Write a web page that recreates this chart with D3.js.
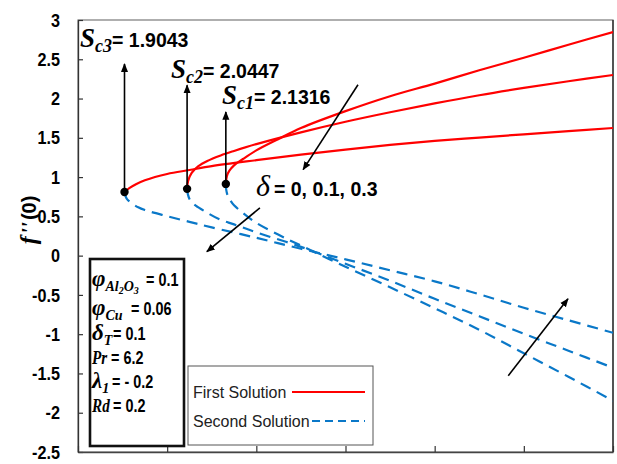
<!DOCTYPE html>
<html>
<head>
<meta charset="utf-8">
<script src="https://cdn.jsdelivr.net/npm/d3@7"></script>
<style>
  body { margin: 0; background: #fff; }
  svg { display: block; }
</style>
</head>
<body>
<svg id="chart" width="617" height="464"></svg>
<script>
// ---- data -------------------------------------------------------------
// delta values, their critical points S_c and f''(0) at the turning point
const deltas = [0, 0.1, 0.3];
const criticalS = [2.1316, 2.0447, 1.9043];
const criticalF = [0.913, 0.85, 0.81];
const criticalLabels = ["c1", "c2", "c3"];

// first (upper) solution branch, [S, f''(0)]
const firstDelta0 = [[2.1316,0.913],[2.134,1.015],[2.14,1.085],[2.15,1.15],[2.17,1.23],[2.2,1.34],[2.25,1.486],[2.3,1.625],[2.4,1.84],[2.5,2.03],[2.6,2.19],[2.7,2.36],[2.8,2.52],[2.9,2.685],[3.0,2.847]];
const firstDelta01 = [[2.0447,0.85],[2.047,0.952],[2.055,1.053],[2.07,1.14],[2.09,1.206],[2.12,1.276],[2.15,1.333],[2.2,1.42],[2.3,1.57],[2.4,1.705],[2.5,1.826],[2.6,1.938],[2.7,2.042],[2.8,2.135],[2.9,2.22],[3.0,2.30]];
const firstDelta03 = [[1.9043,0.81],[1.915,0.86],[1.93,0.91],[1.95,0.96],[2.0,1.04],[2.05,1.09],[2.1,1.14],[2.2,1.215],[2.3,1.285],[2.4,1.35],[2.5,1.41],[2.6,1.46],[2.7,1.503],[2.8,1.545],[2.9,1.586],[3.0,1.625]];

// second (lower) solution branch
const secondDelta0 = [[2.1316,0.913],[2.1325,0.837],[2.136,0.76],[2.142,0.70],[2.15,0.64],[2.17,0.544],[2.2,0.417],[2.25,0.265],[2.3,0.128],[2.4,-0.142],[2.5,-0.403],[2.6,-0.67],[2.7,-0.944],[2.8,-1.243],[2.9,-1.542],[3.0,-1.847]];
const secondDelta01 = [[2.0447,0.85],[2.0465,0.78],[2.051,0.71],[2.06,0.653],[2.07,0.615],[2.09,0.545],[2.12,0.455],[2.15,0.398],[2.2,0.296],[2.3,0.112],[2.4,-0.104],[2.5,-0.32],[2.6,-0.55],[2.7,-0.772],[2.8,-0.995],[2.9,-1.21],[3.0,-1.427]];
const secondDelta03 = [[1.9043,0.81],[1.9065,0.76],[1.91,0.72],[1.92,0.67],[1.935,0.615],[1.95,0.58],[2.0,0.502],[2.05,0.43],[2.1,0.36],[2.2,0.227],[2.3,0.087],[2.4,-0.047],[2.5,-0.187],[2.6,-0.327],[2.7,-0.492],[2.8,-0.664],[2.9,-0.823],[3.0,-0.982]];

const firstSeries = [firstDelta0, firstDelta01, firstDelta03];
const secondSeries = [secondDelta0, secondDelta01, secondDelta03];

// axis ticks
const xTicks = [1.8, 2.0, 2.2, 2.4, 2.6, 2.8, 3.0];
const yTicks = [-2.5, -2, -1.5, -1, -0.5, 0, 0.5, 1, 1.5, 2, 2.5, 3];

// tops of the vertical arrows above each critical point
const criticalArrowTop = [1.83, 2.17, 2.44];
// trend arrows, [[S0, f0], [S1, f1]] (tail to head)
const trendArrows = [
  [[2.428, 2.175], [2.305, 1.095]],
  [[2.208, 0.608], [2.089, 0.05]],
  [[2.765, -1.53], [2.899, -0.55]]
];

// parameters listed in the box: symbol, subscript pieces, value
const params = [
  { sym: "φ", sub: [["Al", 0], ["2", 1], ["O", 0], ["3", 1]], value: "= 0.1" },
  { sym: "φ", sub: [["Cu", 0]], value: "= 0.06" },
  { sym: "δ", sub: [["T", 0]], value: "= 0.1" },
  { sym: "Pr", sub: [], value: "= 6.2" },
  { sym: "λ", sub: [["1", 0]], value: "= - 0.2" },
  { sym: "Rd", sub: [], value: "= 0.2" }
];

const legendItems = ["First Solution", "Second Solution"];

// ---- layout -----------------------------------------------------------
const RED = "#ff0000";
const BLUE = "#0a78c8";
const SANS = "'Liberation Sans', Arial, sans-serif";
const SERIF = "'Liberation Serif', 'Times New Roman', serif";

const plot = { left: 78, right: 613, top: 20, bottom: 452 };
const svg = d3.select("#chart");

const x = d3.scaleLinear().domain([1.8, 3.0]).range([plot.left, plot.right]);
const y = d3.scaleLinear().domain([-2.5, 3]).range([plot.bottom, plot.top]);

const defs = svg.append("defs");
defs.append("clipPath").attr("id", "plotClip")
  .append("rect")
  .attr("x", plot.left).attr("y", plot.top)
  .attr("width", plot.right - plot.left).attr("height", plot.bottom - plot.top);
defs.append("marker")
  .attr("id", "arrowHead")
  .attr("viewBox", "0 0 10 10")
  .attr("refX", 9).attr("refY", 5)
  .attr("markerWidth", 5.5).attr("markerHeight", 5.5)
  .attr("markerUnits", "strokeWidth")
  .attr("orient", "auto")
  .append("path").attr("d", "M0,1 L10,5 L0,9 Z").attr("fill", "#000");

// frame
svg.append("rect")
  .attr("x", plot.left).attr("y", plot.top)
  .attr("width", plot.right - plot.left).attr("height", plot.bottom - plot.top)
  .attr("fill", "none").attr("stroke", "#7a7a7a").attr("stroke-width", 1.2);
svg.append("line")
  .attr("x1", plot.right).attr("x2", plot.right)
  .attr("y1", plot.top).attr("y2", plot.bottom)
  .attr("stroke", "#222").attr("stroke-width", 1.3);

// axes with inward ticks
const yAxis = svg.append("g")
  .attr("transform", `translate(${plot.left},0)`)
  .call(d3.axisLeft(y).tickValues(yTicks).tickSizeInner(-5).tickSizeOuter(0)
    .tickPadding(0).tickFormat(""));
yAxis.select(".domain").attr("stroke", "#333").attr("stroke-width", 1.3);
yAxis.selectAll(".tick line").attr("stroke", "#333").attr("stroke-width", 1.2);
// tick labels, slightly condensed and right-aligned 18px left of the axis
yAxis.selectAll(".tick").append("text")
  .attr("transform", "translate(-18,0) scale(0.9,1)")
  .attr("dy", "0.34em")
  .attr("text-anchor", "end")
  .attr("font-family", SANS).attr("font-weight", "bold").attr("font-size", 18)
  .attr("fill", "#000").text(d => String(d));

const xAxis = svg.append("g")
  .attr("transform", `translate(0,${plot.bottom})`)
  .call(d3.axisBottom(x).tickValues(xTicks).tickSizeInner(-6).tickSizeOuter(0).tickFormat(""));
xAxis.select(".domain").attr("stroke", "#444").attr("stroke-width", 1.3);
xAxis.selectAll(".tick line").attr("stroke", "#333").attr("stroke-width", 1.2);

// y axis title: f''(0)
const yTitle = svg.append("text")
  .attr("transform", "translate(36,220) rotate(-90)")
  .attr("text-anchor", "middle");
yTitle.append("tspan").attr("font-family", SERIF).attr("font-style", "italic")
  .attr("font-weight", "bold").attr("font-size", 24).text("f");
yTitle.append("tspan").attr("font-family", SERIF).attr("font-style", "italic")
  .attr("font-weight", "bold").attr("font-size", 22).attr("dx", 2).text("''");
yTitle.append("tspan").attr("font-family", SANS).attr("font-weight", "bold")
  .attr("font-size", 20).attr("dx", 2).text("(0)");

// ---- curves -----------------------------------------------------------
const line = d3.line()
  .x(d => x(d[0])).y(d => y(d[1]))
  .curve(d3.curveCatmullRom.alpha(0.5));

const curves = svg.append("g").attr("clip-path", "url(#plotClip)");
curves.selectAll("path.second")
  .data(secondSeries).join("path")
  .attr("class", "second")
  .attr("d", line)
  .attr("fill", "none").attr("stroke", BLUE).attr("stroke-width", 2.2)
  .attr("stroke-dasharray", "11,7");
curves.selectAll("path.first")
  .data(firstSeries).join("path")
  .attr("class", "first")
  .attr("d", line)
  .attr("fill", "none").attr("stroke", RED).attr("stroke-width", 2.2);

// vertical arrows marking the critical points
const crit = svg.append("g");
crit.selectAll("line")
  .data(criticalS).join("line")
  .attr("x1", d => x(d)).attr("x2", d => x(d))
  .attr("y1", (d, i) => y(criticalF[i]))
  .attr("y2", (d, i) => y(criticalArrowTop[i]))
  .attr("stroke", "#000").attr("stroke-width", 1.6)
  .attr("marker-end", "url(#arrowHead)");
crit.selectAll("circle")
  .data(criticalS).join("circle")
  .attr("cx", d => x(d)).attr("cy", (d, i) => y(criticalF[i]))
  .attr("r", 4.2).attr("fill", "#000");

// trend arrows
svg.append("g").selectAll("line")
  .data(trendArrows).join("line")
  .attr("x1", d => x(d[0][0])).attr("y1", d => y(d[0][1]))
  .attr("x2", d => x(d[1][0])).attr("y2", d => y(d[1][1]))
  .attr("stroke", "#000").attr("stroke-width", 1.6)
  .attr("marker-end", "url(#arrowHead)");

// ---- critical value labels --------------------------------------------
const critLabelPos = [
  { sx: 222, base: 104 },
  { sx: 171, base: 78 },
  { sx: 80, base: 47 }
];
criticalS.forEach((s, i) => {
  const p = critLabelPos[i];
  const t = svg.append("text").attr("x", p.sx).attr("y", p.base);
  t.append("tspan").attr("font-family", SERIF).attr("font-style", "italic")
    .attr("font-weight", "bold").attr("font-size", 27).text("S");
  t.append("tspan").attr("font-family", SERIF).attr("font-style", "italic")
    .attr("font-weight", "bold").attr("font-size", 18).attr("dy", 5)
    .text(criticalLabels[i]);
  svg.append("text").attr("x", p.sx + 32).attr("y", p.base)
    .attr("font-family", SANS).attr("font-weight", "bold").attr("font-size", 19.5)
    .text("= " + s.toFixed(4));
});

// delta label
const dl = svg.append("text").attr("x", 256).attr("y", 196);
dl.append("tspan").attr("font-family", SERIF).attr("font-style", "italic")
  .attr("font-size", 30).text("δ");
dl.append("tspan").attr("font-family", SANS).attr("font-weight", "bold")
  .attr("font-size", 19.5).attr("dx", 4).text("= " + deltas.join(", "));

// ---- parameter box -----------------------------------------------------
svg.append("rect")
  .attr("x", 90).attr("y", 259).attr("width", 94).attr("height", 187)
  .attr("fill", "#fff").attr("stroke", "#111").attr("stroke-width", 2.6);

const paramBase = [286, 315, 340, 364, 388, 412];
const valueX = [146, 131, 113, 111, 112, 113];
params.forEach((p, i) => {
  const wide = p.sym.length > 1;
  const t = svg.append("text")
    .attr("transform", `translate(92,${paramBase[i]}) scale(${wide ? 0.8 : 1},1)`)
    .attr("font-family", SERIF).attr("font-style", "italic").attr("font-weight", "bold");
  t.append("tspan").attr("font-size", wide ? 19 : 23).text(p.sym);
  let level = 0;
  p.sub.forEach(piece => {
    const target = piece[1] === 1 ? 8 : 5;
    t.append("tspan")
      .attr("font-size", piece[1] === 1 ? 10 : 14)
      .attr("dy", target - level)
      .text(piece[0]);
    level = target;
  });
  svg.append("text")
    .attr("transform", `translate(${valueX[i]},${paramBase[i]}) scale(0.8,1)`)
    .attr("font-family", SANS).attr("font-weight", "bold").attr("font-size", 18)
    .text(p.value);
});

// ---- legend -----------------------------------------------------------
svg.append("rect")
  .attr("x", 188).attr("y", 366).attr("width", 185).attr("height", 79)
  .attr("fill", "#fff").attr("stroke", "#555").attr("stroke-width", 1);
const legendY = [392, 421];
const legendLineStart = [292, 312];
legendItems.forEach((name, i) => {
  svg.append("text").attr("x", 193).attr("y", legendY[i] + 5.5)
    .attr("font-family", SANS).attr("font-size", 16).attr("fill", "#222")
    .text(name);
  svg.append("line")
    .attr("x1", legendLineStart[i]).attr("x2", 365)
    .attr("y1", legendY[i]).attr("y2", legendY[i])
    .attr("stroke", i === 0 ? RED : BLUE).attr("stroke-width", 2.2)
    .attr("stroke-dasharray", i === 0 ? null : "8,5");
});
</script>
</body>
</html>
